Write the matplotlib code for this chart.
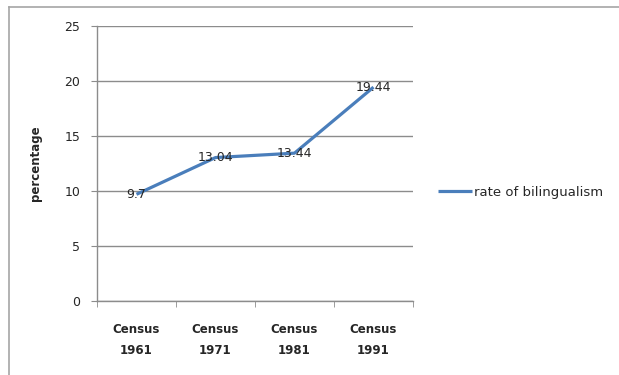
import matplotlib

matplotlib.use("Agg")
import matplotlib.pyplot as plt
from matplotlib.lines import Line2D

# Values
categories = ["Census\n1961", "Census\n1971", "Census\n1981", "Census\n1991"]
rate = [9.7, 13.04, 13.44, 19.44]
rate_labels = ["9.7", "13.04", "13.44", "19.44"]
y_ticks = [0, 5, 10, 15, 20, 25]

_LINE_COLOR = "#4a7ebb"
_GRID_COLOR = "#8c8c8c"
_TEXT_COLOR = "#262626"

plt.rcParams["font.family"] = ["DejaVu Sans"]

fig = plt.figure(figsize=(6.19, 3.75), dpi=100)
ax = fig.add_axes([97 / 619, 74 / 375, 316 / 619, 275 / 375])

x = list(range(len(categories)))
ax.plot(x, rate, color=_LINE_COLOR, linewidth=2.3, label="rate of bilingualism",
        solid_capstyle="butt")
for xi, yi, txt in zip(x, rate, rate_labels):
    ax.text(xi, yi, txt, ha="center", va="center", fontsize=9, color=_TEXT_COLOR)

ax.set_xlim(-0.5, len(categories) - 0.5)
ax.set_ylim(0, 25)
ax.set_yticks(y_ticks)
ax.set_yticklabels([str(t) for t in y_ticks], fontsize=9, color=_TEXT_COLOR)
ax.set_xticks(x)
ax.set_xticklabels(categories, fontsize=8.5, fontweight="bold", color=_TEXT_COLOR,
                   linespacing=1.75)
ax.tick_params(axis="x", length=0, pad=16)
ax.set_xticks([i - 0.5 for i in range(len(categories) + 1)], minor=True)
ax.tick_params(axis="x", which="minor", length=4, color=_GRID_COLOR, direction="out")
ax.tick_params(axis="y", length=4, color=_GRID_COLOR, direction="out", pad=8)

ax.grid(axis="y", color=_GRID_COLOR, linewidth=1)
ax.set_axisbelow(True)
for side in ("top", "right"):
    ax.spines[side].set_visible(False)
for side in ("left", "bottom"):
    ax.spines[side].set_color(_GRID_COLOR)
    ax.spines[side].set_linewidth(1)

ax.set_ylabel("percentage", fontsize=8.5, fontweight="bold", color=_TEXT_COLOR)
ax.yaxis.set_label_coords(-0.175, 0.5)

ax.legend(loc="center left", bbox_to_anchor=(1.04, 0.395), frameon=False, fontsize=9.5,
          handlelength=2.6, handletextpad=0.2, labelcolor=_TEXT_COLOR)

# outer chart frame (only top and left edges are in view)
fig.add_artist(Line2D([9 / 619, 9 / 619], [0, 1 - 7 / 375], transform=fig.transFigure,
                      color="#a6a6a6", linewidth=1.2))
fig.add_artist(Line2D([9 / 619, 1], [1 - 7 / 375, 1 - 7 / 375], transform=fig.transFigure,
                      color="#a6a6a6", linewidth=1.2))

fig.savefig("out.png", dpi=100)
